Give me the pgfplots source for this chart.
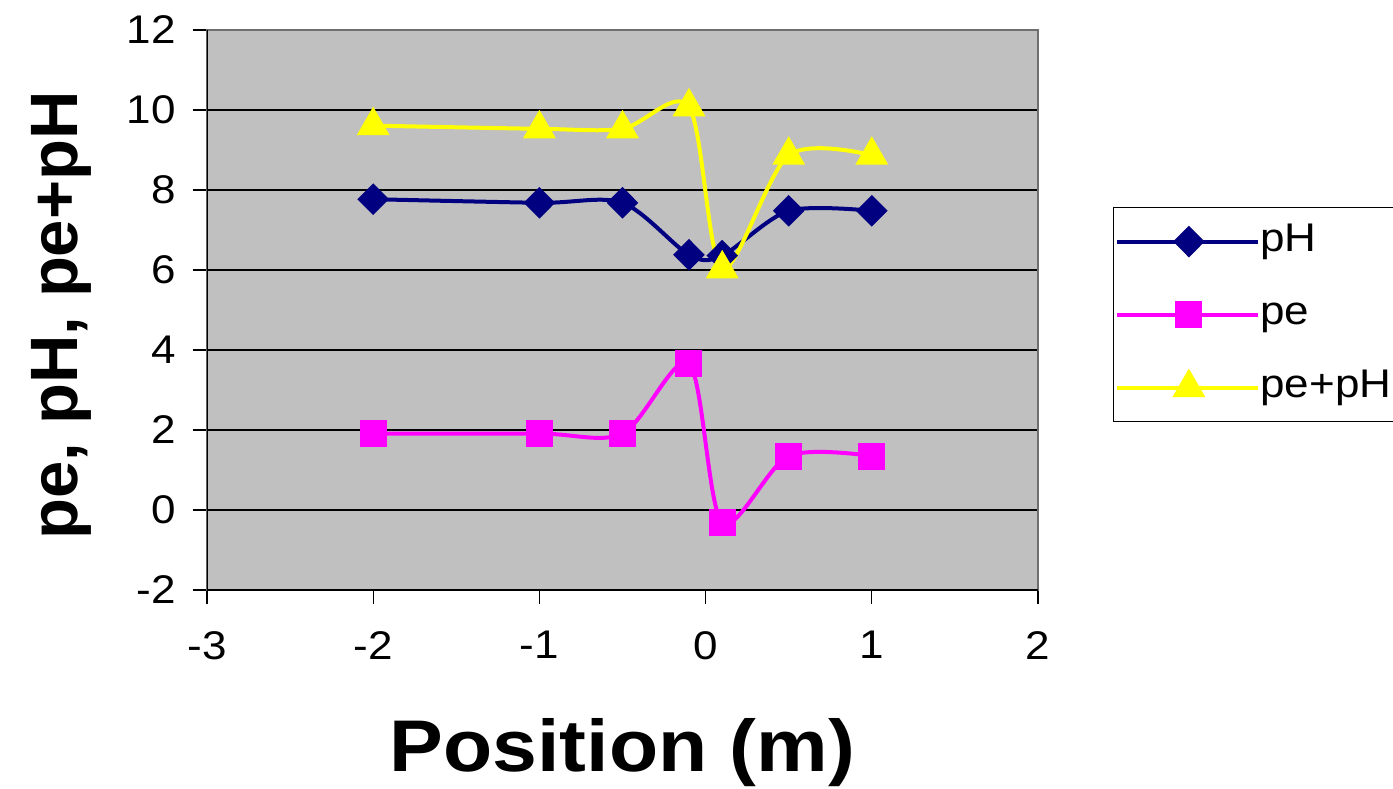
\documentclass[border=0pt]{standalone}
\usepackage{pgfplots}
\pgfplotsset{compat=1.18}
\usepackage{fontspec}
\setmainfont[FakeStretch=1.1]{Liberation Sans}
\newfontfamily\ylabfont{Liberation Sans}
\definecolor{phblue}{RGB}{0,0,128}
\definecolor{pemag}{RGB}{255,0,255}
\definecolor{sumyel}{RGB}{255,255,0}
\definecolor{plotgray}{RGB}{192,192,192}
\definecolor{framegray}{RGB}{110,110,110}
\begin{document}
\begin{tikzpicture}
\path[use as bounding box] (-103.5pt,-99pt) rectangle (593pt,295pt);
\begin{axis}[
  at={(0,0)}, anchor=south west,
  scale only axis, width=415.5pt, height=280pt,
  xmin=-3, xmax=2, ymin=-2, ymax=12,
  xtick={-3,-2,-1,0,1,2}, ytick={-2,0,2,4,6,8,10,12},
  xticklabels={-3,-2,-1,0,1,2}, yticklabels={-2,0,2,4,6,8,10,12},
  tick align=outside, tick pos=left,
  major tick length=7pt,
  tick style={black, line width=0.6pt},
  ymajorgrids, grid style={black, line width=0.6pt},
  axis background/.style={fill=plotgray},
  axis line style={draw=framegray, line width=1pt},
  ticklabel style={font=\fontsize{20}{20}\selectfont},
  xticklabel style={yshift=-10pt},
  yticklabel style={xshift=-5pt},
  xlabel={Position (m)},
  ylabel={pe, pH, pe+pH},
  xlabel style={font=\fontsize{36.6}{37}\selectfont\bfseries, at={(axis description cs:0.5,-0.29)}, anchor=center},
  ylabel style={font=\ylabfont\fontsize{33.5}{34}\selectfont\bfseries, at={(axis description cs:-0.175,0.49)}, anchor=center},
  legend style={at={(1.09,0.684)}, anchor=north west, draw=black, line width=0.6pt,
    font=\fontsize{20}{20}\selectfont, row sep=18.5pt, inner xsep=1pt, inner ysep=8pt,
    nodes={inner xsep=0pt, inner ysep=0pt, text height=14pt, text depth=4pt},
    cells={anchor=west}},
  legend image code/.code={\path (-6.5pt,0pt) -- (64pt,0pt);\draw[mark repeat=2,mark phase=2,#1] plot coordinates {(0pt,0pt) (29.25pt,0pt) (58.5pt,0pt)};},
]
\addplot[color=phblue, line width=2pt, smooth, tension=0.5, mark=diamond*, mark size=6.5pt, mark options={solid, xscale=1.33}]
  coordinates {(-2,7.77) (-1,7.68) (-0.5,7.68) (-0.1,6.38) (0.1,6.36) (0.5,7.48) (1,7.48)};
\addlegendentry{pH}
\addplot[color=pemag, line width=2pt, smooth, tension=0.5, mark=square*, mark size=5.75pt, mark options={solid}]
  coordinates {(-2,1.91) (-1,1.91) (-0.5,1.91) (-0.1,3.66) (0.1,-0.31) (0.5,1.35) (1,1.35)};
\addlegendentry{pe}
\addplot[color=sumyel, line width=2pt, smooth, tension=0.5, mark=triangle*, mark size=7.5pt, mark options={solid}]
  coordinates {(-2,9.61) (-1,9.53) (-0.5,9.53) (-0.1,10.08) (0.1,6.03) (0.5,8.87) (1,8.87)};
\addlegendentry{pe+pH}
\draw[black, line width=1pt] (rel axis cs:0,1) -- (rel axis cs:0,0) -- (rel axis cs:1,0);
\end{axis}
\end{tikzpicture}
\end{document}
